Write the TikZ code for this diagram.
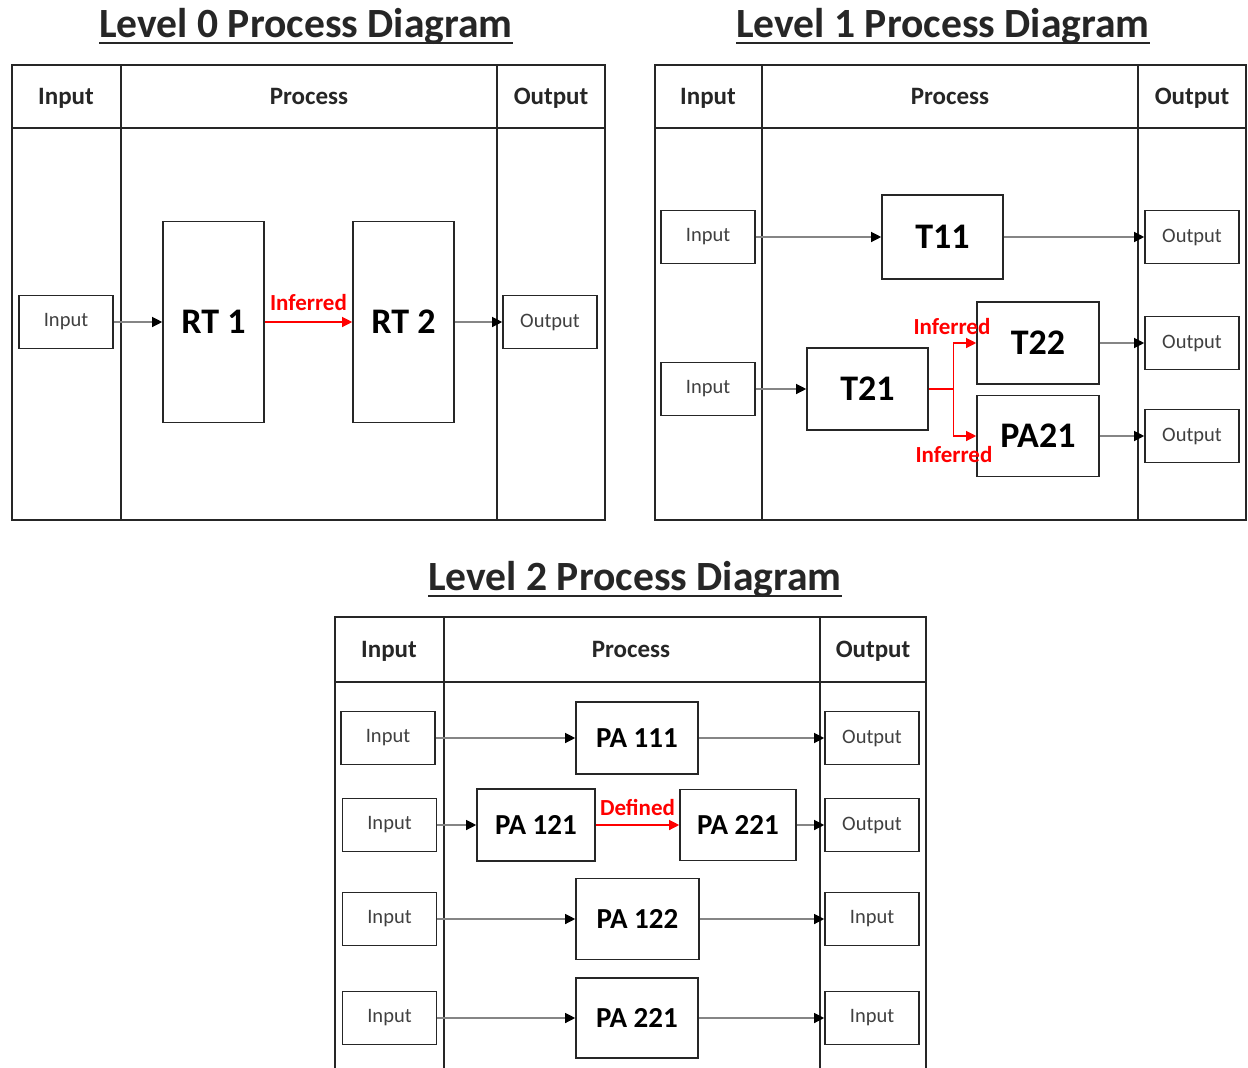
\documentclass[tikz,border=0pt]{standalone}
\usepackage{fontspec}
\setmainfont{Carlito}
\usetikzlibrary{arrows.meta}

\definecolor{boxgray}{HTML}{262626}
\definecolor{linegray}{HTML}{858585}
\definecolor{labelgray}{HTML}{404040}

\tikzstyle{title} = [font=\fontsize{41.6}{48}\selectfont\bfseries, text=black!85, inner sep=0pt, anchor=base]
\tikzstyle{head} = [font=\fontsize{25}{29}\selectfont\bfseries, text=black!85, inner sep=0pt, anchor=base]
\tikzstyle{io} = [rectangle, draw=boxgray, line width=1.6pt, minimum width=94pt, minimum height=53pt, inner sep=0pt, text=labelgray, font=\fontsize{20.5}{24}\selectfont]
\tikzstyle{proc} = [rectangle, draw=boxgray, line width=1.6pt, inner sep=0pt, text=black, font=\fontsize{36}{40}\selectfont\bfseries]
\tikzstyle{proc2} = [proc, font=\fontsize{29}{33}\selectfont\bfseries]
\tikzstyle{arrow} = [linegray, line width=1.2pt, -{Triangle[color=black, length=10pt, width=10pt]}]
\tikzstyle{redarrow} = [red, line width=1.2pt, -{Triangle[length=10pt, width=10pt]}]
\tikzstyle{redlbl} = [text=red, font=\fontsize{23}{27}\selectfont\bfseries, inner sep=0pt]
\tikzstyle{lane} = [line width=2.2pt, black!85]
\tikzstyle{uline} = [line width=2.4pt, black!85]

\begin{document}
\begin{tikzpicture}[x=1pt, y=-1pt]

\useasboundingbox (0,0) rectangle (1248,1068);

% level 0
\node (title0) [title] at (306,37) {Level 0 Process Diagram};
\draw [uline] ([yshift=-6pt]title0.base west) -- ([yshift=-6pt]title0.base east);

\draw [lane] (12,65) rectangle (605,520);
\draw [lane] (12,128) -- (605,128);
\draw [lane] (121,65) -- (121,520);
\draw [lane] (497,65) -- (497,520);

\node (h0in) [head] at (66,104) {Input};
\node (h0pr) [head] at (309,104) {Process};
\node (h0out) [head] at (551,104) {Output};

\node (in0) [io] at (66,322) {Input};
\node (rt1) [proc, minimum width=101pt, minimum height=201pt] at (213.5,322) {RT 1};
\node (rt2) [proc, minimum width=101pt, minimum height=201pt] at (403.5,322) {RT 2};
\node (out0) [io] at (550,322) {Output};

\draw [arrow] (in0) -- (rt1);
\draw [redarrow] (rt1) -- node[redlbl, above=11pt] (inf0) {Inferred} (rt2);
\draw [arrow] (rt2) -- (out0);

% level 1
\node (title1) [title] at (943,37) {Level 1 Process Diagram};
\draw [uline] ([yshift=-6pt]title1.base west) -- ([yshift=-6pt]title1.base east);

\draw [lane] (655,65) rectangle (1246,520);
\draw [lane] (655,128) -- (1246,128);
\draw [lane] (762,65) -- (762,520);
\draw [lane] (1138,65) -- (1138,520);

\node (h1in) [head] at (708,104) {Input};
\node (h1pr) [head] at (950,104) {Process};
\node (h1out) [head] at (1192,104) {Output};

\node (in11) [io] at (708,237) {Input};
\node (in12) [io] at (708,389) {Input};
\node (t11) [proc, minimum width=121pt, minimum height=84pt] at (942.5,237) {T11};
\node (t21) [proc, minimum width=121pt, minimum height=82pt] at (867.5,389) {T21};
\node (t22) [proc, minimum width=122pt, minimum height=82pt] at (1038,343) {T22};
\node (pa21) [proc, minimum width=122pt, minimum height=81pt] at (1038,436) {PA21};
\node (out11) [io] at (1192,237) {Output};
\node (out12) [io] at (1192,343) {Output};
\node (out13) [io] at (1192,436) {Output};

\draw [arrow] (in11) -- (t11);
\draw [arrow] (t11) -- (out11);
\draw [arrow] (in12) -- (t21);
\draw [red, line width=1.2pt] (t21.east) -- ++(25,0) coordinate (split);
\draw [redarrow] (split) |- (t22);
\draw [redarrow] (split) |- (pa21);
\draw [arrow] (t22) -- (out12);
\draw [arrow] (pa21) -- (out13);

\node (inf1) [redlbl] at (952,327) {Inferred};
\node (inf2) [redlbl] at (954,455) {Inferred};

% level 2
\node (title2) [title] at (635,590) {Level 2 Process Diagram};
\draw [uline] ([yshift=-6pt]title2.base west) -- ([yshift=-6pt]title2.base east);

\draw [lane] (335,1068) |- (926,617) -- (926,1068);
\draw [lane] (335,682) -- (926,682);
\draw [lane] (444,617) -- (444,1068);
\draw [lane] (820,617) -- (820,1068);

\node (h2in) [head] at (389,657) {Input};
\node (h2pr) [head] at (631,657) {Process};
\node (h2out) [head] at (873,657) {Output};

\node (in21) [io] at (388,738) {Input};
\node (in22) [io] at (389.5,825) {Input};
\node (in23) [io] at (389.5,919) {Input};
\node (in24) [io] at (389.5,1018) {Input};

\node (pa111) [proc2, minimum width=122pt, minimum height=72pt] at (637,738) {PA 111};
\node (pa121) [proc2, minimum width=118pt, minimum height=72pt] at (536,825) {PA 121};
\node (pa221a) [proc2, minimum width=116pt, minimum height=71pt] at (738,825) {PA 221};
\node (pa122) [proc2, minimum width=123pt, minimum height=81pt] at (637.5,919) {PA 122};
\node (pa221b) [proc2, minimum width=122pt, minimum height=80pt] at (637,1018) {PA 221};

\node (out21) [io] at (872,738) {Output};
\node (out22) [io] at (872,825) {Output};
\node (out23) [io] at (872,919) {Input};
\node (out24) [io] at (872,1018) {Input};

\draw [arrow] (in21) -- (pa111);
\draw [arrow] (pa111) -- (out21);
\draw [arrow] (in22) -- (pa121);
\draw [redarrow] (pa121) -- node[redlbl, above=9pt] (def0) {Defined} (pa221a);
\draw [arrow] (pa221a) -- (out22);
\draw [arrow] (in23) -- (pa122);
\draw [arrow] (pa122) -- (out23);
\draw [arrow] (in24) -- (pa221b);
\draw [arrow] (pa221b) -- (out24);

\end{tikzpicture}
\end{document}
